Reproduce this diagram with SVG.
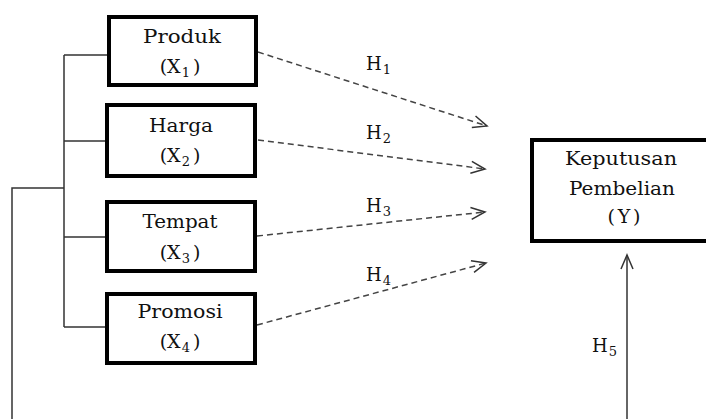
<svg xmlns="http://www.w3.org/2000/svg" width="706" height="419" viewBox="0 0 706 419">
<style>
.box{fill:#fff;stroke:#000;stroke-width:4}
.t{font-family:"DejaVu Serif","Liberation Serif",serif;font-size:19px;fill:#111;text-anchor:middle}
.s{font-size:13px}
.br{fill:none;stroke:#333;stroke-width:1.5}
.da{fill:none;stroke:#444;stroke-width:1.5;stroke-dasharray:6,4;marker-end:url(#ah)}
.so{fill:none;stroke:#333;stroke-width:1.5;marker-end:url(#ah)}
.h{font-family:"DejaVu Serif","Liberation Serif",serif;font-size:18px;fill:#111}
</style>
<defs>
<marker id="ah" markerUnits="userSpaceOnUse" markerWidth="18" markerHeight="16" viewBox="0 0 18 16" refX="16" refY="8" orient="auto">
<path d="M2,2 L16,8 L2,14" fill="none" stroke="#333" stroke-width="1.5"/>
</marker>
</defs>
<g id="connectors">
<path class="br" d="M64,55 V327 M64,55 H107 M64,141 H105 M64,237 H105 M64,327 H105"/>
<path class="br" d="M12,419 V188 H64"/>
<path class="da" d="M258,52 L487,126"/>
<path class="da" d="M258,140 L485,169"/>
<path class="da" d="M257,236 L485,212"/>
<path class="da" d="M257,325 L486,263"/>
<path class="so" d="M627,419 V255"/>
<text class="h" x="366" y="70">H<tspan class="s" dx="1" dy="4">1</tspan></text>
<text class="h" x="366" y="139">H<tspan class="s" dx="1" dy="4">2</tspan></text>
<text class="h" x="366" y="212">H<tspan class="s" dx="1" dy="4">3</tspan></text>
<text class="h" x="366" y="281">H<tspan class="s" dx="1" dy="4">4</tspan></text>
<text class="h" x="592" y="352">H<tspan class="s" dx="1" dy="4">5</tspan></text>
</g>
<g id="produk">
<rect class="box" x="109" y="17" width="147" height="68"/>
<text class="t" x="182" y="43" textLength="78" lengthAdjust="spacingAndGlyphs">Produk</text>
<text class="t" x="180" y="73">(X<tspan class="s" dx="1" dy="4">1</tspan><tspan dx="3" dy="-4">)</tspan></text>
</g>
<g id="harga">
<rect class="box" x="107" y="105" width="148" height="71"/>
<text class="t" x="181" y="132" textLength="64" lengthAdjust="spacingAndGlyphs">Harga</text>
<text class="t" x="180" y="162">(X<tspan class="s" dx="1" dy="4">2</tspan><tspan dx="3" dy="-4">)</tspan></text>
</g>
<g id="tempat">
<rect class="box" x="107" y="202" width="148" height="69"/>
<text class="t" x="180" y="228" textLength="75" lengthAdjust="spacingAndGlyphs">Tempat</text>
<text class="t" x="180" y="259">(X<tspan class="s" dx="1" dy="4">3</tspan><tspan dx="3" dy="-4">)</tspan></text>
</g>
<g id="promosi">
<rect class="box" x="107" y="294" width="148" height="69"/>
<text class="t" x="180" y="318" textLength="85" lengthAdjust="spacingAndGlyphs">Promosi</text>
<text class="t" x="180" y="348">(X<tspan class="s" dx="1" dy="4">4</tspan><tspan dx="3" dy="-4">)</tspan></text>
</g>
<g id="keputusan">
<rect class="box" x="532" y="140" width="180" height="101"/>
<text class="t" x="621" y="165" textLength="112" lengthAdjust="spacingAndGlyphs">Keputusan</text>
<text class="t" x="622" y="195" textLength="106" lengthAdjust="spacingAndGlyphs">Pembelian</text>
<text class="t" x="624" y="223" textLength="33" lengthAdjust="spacing">(Y)</text>
</g>
</svg>
